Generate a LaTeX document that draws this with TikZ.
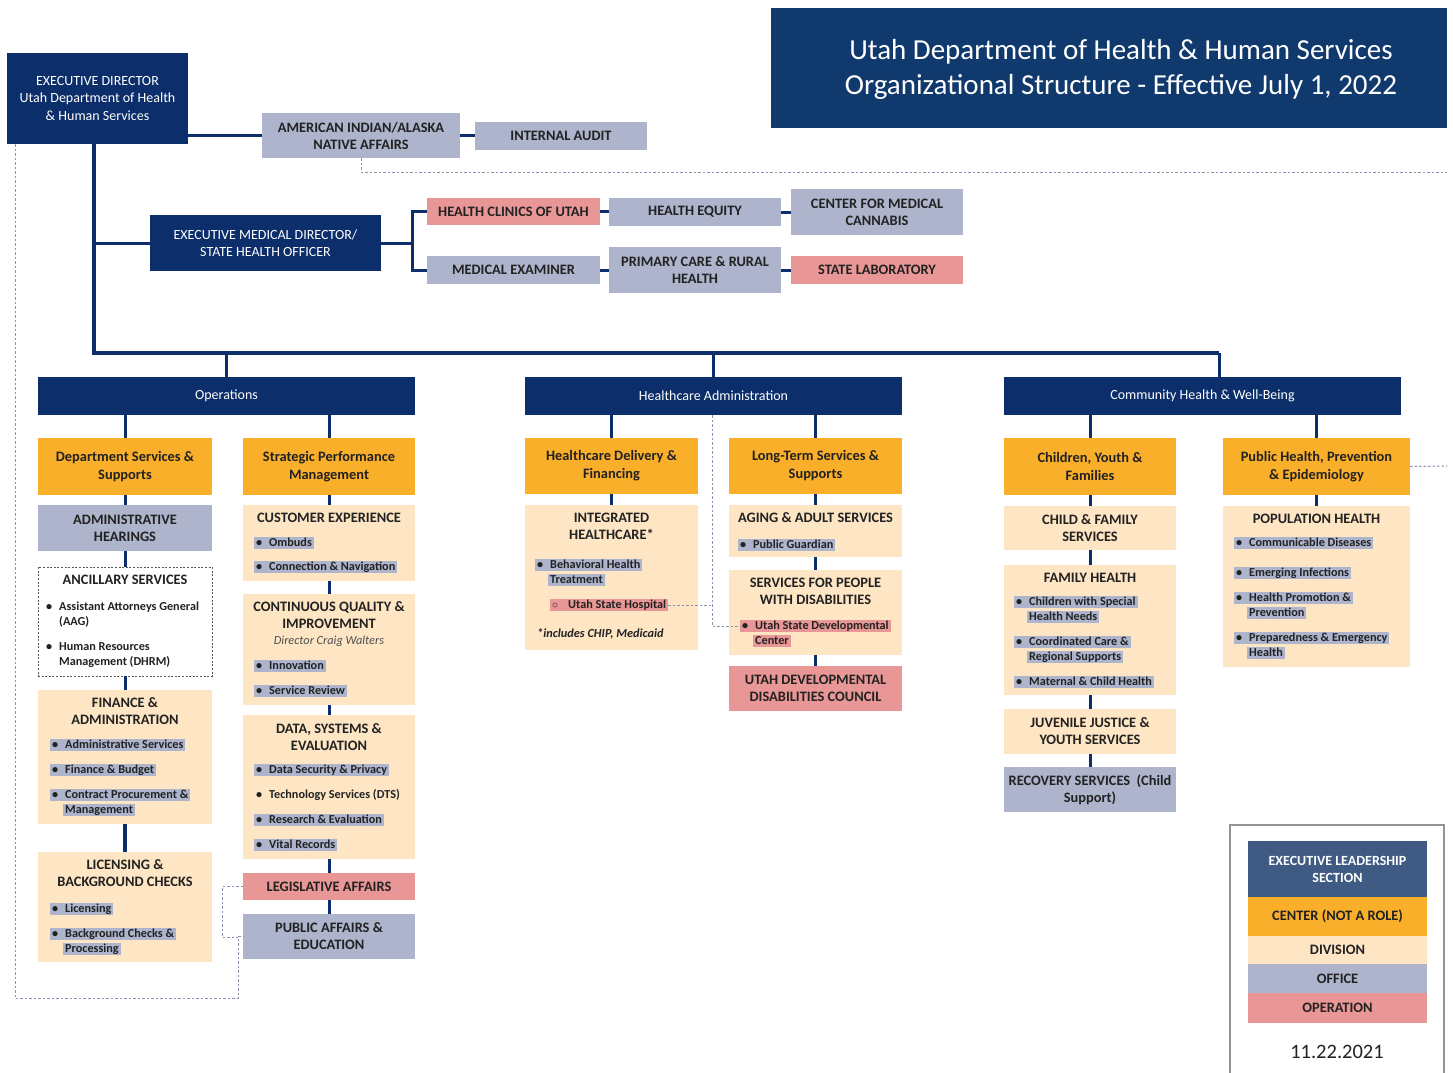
\documentclass[tikz,border=0pt]{standalone}
\usepackage{fontspec}
\setmainfont{Carlito}
\definecolor{navy}{HTML}{0C2E6A}
\definecolor{navyt}{HTML}{10396E}
\definecolor{legex}{HTML}{3F5B84}
\definecolor{orng}{HTML}{FAAF2A}
\definecolor{cream}{HTML}{FEE6C5}
\definecolor{lav}{HTML}{ADB4CB}
\definecolor{pinkc}{HTML}{E99696}
\definecolor{ink}{HTML}{222222}
\definecolor{dotc}{HTML}{8A93AE}
\newcommand\bxn[7]{\node[#6, minimum width={#4-#2}, minimum height={#5-#3}] (#1) at ({(#2+#4)/2},{(#3+#5)/2}) {#7};}
\newcounter{bc}
\newcommand\bi[5]{\stepcounter{bc}%
  \node[bul, fill=#3] (b\arabic{bc}a) at (#1,#2) {\makebox[13pt][l]{\textbullet}#4};%
  \if\relax\detokenize{#5}\relax\else
  \node[bul, fill=#3] (b\arabic{bc}b) at (#1+13,#2+15) {#5};\fi}
\begin{document}
\begin{tikzpicture}[x=1pt,y=-1pt,
  bx/.style={inner sep=0pt, outer sep=0pt, align=center, text=ink},
  exbox/.style={bx, fill=navy, text=white, font=\fontsize{14}{17.5}\selectfont},
  ctrbox/.style={bx, fill=orng, font=\bfseries\fontsize{14.4}{18}\selectfont},
  divbox/.style={bx, fill=cream, font=\bfseries\fontsize{14.4}{17}\selectfont},
  offbox/.style={bx, fill=lav, font=\bfseries\fontsize{14.4}{17}\selectfont},
  opbox/.style={bx, fill=pinkc, font=\bfseries\fontsize{14.4}{17}\selectfont},
  secbox/.style={bx, fill=navy, text=white, font=\fontsize{14}{16}\selectfont},
  ttl/.style={inner sep=0pt, align=center, text=ink, font=\bfseries\fontsize{14.4}{17}\selectfont},
  bul/.style={anchor=west, inner xsep=2pt, inner ysep=0pt, text height=9.5pt, text depth=3.2pt, text=ink, font=\bfseries\fontsize{12.2}{13}\selectfont},
  conn/.style={draw=navy, line width=3pt},
  bus/.style={draw=navy, line width=4pt},
  dots/.style={draw=dotc, line width=1pt, dash pattern=on 2.5pt off 2pt},
]
\useasboundingbox[fill=white] (0,0) rectangle (1453,1072);

% ---------- title ----------
\bxn{title}{771}{8}{1447}{128}{bx, fill=navyt}{}
\node[inner sep=0pt, align=center, text=white, font=\fontsize{29}{35}\selectfont] (titleT) at (1121,69) {Utah Department of Health \& Human Services\\Organizational Structure - Effective July 1, 2022};

% ---------- top ----------
\bxn{ed}{7}{53}{188}{144}{exbox}{EXECUTIVE DIRECTOR\\Utah Department of Health\\\& Human Services}
\bxn{aian}{262}{113}{460}{158}{offbox}{AMERICAN INDIAN/ALASKA\\NATIVE AFFAIRS}
\bxn{ia}{475}{122}{647}{150}{offbox}{INTERNAL AUDIT}
\bxn{emd}{150}{215}{381}{271}{exbox}{EXECUTIVE MEDICAL DIRECTOR/\\STATE HEALTH OFFICER}
\bxn{hcu}{427}{198}{600}{225}{opbox}{HEALTH CLINICS OF UTAH}
\bxn{he}{609}{198}{781}{226}{offbox}{HEALTH EQUITY}
\bxn{cmc}{791}{189}{963}{235}{offbox}{CENTER FOR MEDICAL\\CANNABIS}
\bxn{me}{427}{256}{600}{284}{offbox}{MEDICAL EXAMINER}
\bxn{pcrh}{609}{247}{781}{293}{offbox}{PRIMARY CARE \& RURAL\\HEALTH}
\bxn{sl}{791}{256}{963}{284}{opbox}{STATE LABORATORY}

\coordinate (trunk) at (94,144);
\coordinate (emdbr) at (94,243);
\coordinate (busL) at (94,353);
\coordinate (busR) at (1219,353);
\coordinate (emdj) at (412,243);
\draw[bus] (trunk) -- (busL) -- (busR);
\draw[conn] (emdbr) -- (emd.west);
\draw[conn] (aian.west -| ed.east) -- (aian.west);
\draw[conn] (aian.east) -- (aian.east -| ia.west);
\draw[conn] (emd.east) -- (emdj);
\draw[conn] (hcu.west) -| (emdj) |- (me.west);
\draw[conn] (hcu.east) -- (hcu.east -| he.west);
\draw[conn] (he.east) -- (he.east -| cmc.west);
\draw[conn] (me.east) -- (me.east -| pcrh.west);
\draw[conn] (pcrh.east) -- (pcrh.east -| sl.west);

% ---------- section headers ----------
\bxn{ops}{38}{377}{415}{415}{secbox}{Operations}
\bxn{hca}{525}{377}{902}{415}{secbox}{Healthcare Administration}
\bxn{chw}{1004}{377}{1401}{415}{secbox}{Community Health \& Well-Being}
\draw[conn] (ops.north) -- (ops.north |- busL);
\draw[conn] (hca.north) -- (hca.north |- busL);
\draw[conn] (chw.north -| busR) -- (busR);

% ---------- Operations col A ----------
\bxn{dss}{38}{438}{212}{495}{ctrbox}{Department Services \&\\Supports}
\bxn{ah}{38}{505}{212}{551}{offbox}{ADMINISTRATIVE\\HEARINGS}
\bxn{anc}{38}{567}{212}{676}{bx, draw=ink!75, line width=0.8pt, dash pattern=on 2pt off 1.6pt}{}
\node[ttl] (ancT) at (125,580) {ANCILLARY SERVICES};
\bi{44}{607}{none}{Assistant Attorneys General}{(AAG)}
\bi{44}{647}{none}{Human Resources}{Management (DHRM)}
\bxn{fa}{38}{690}{212}{824}{divbox}{}
\node[ttl] (faT) at (125,711.5) {FINANCE \&\\ADMINISTRATION};
\bi{50}{745}{lav}{Administrative Services}{}
\bi{50}{770}{lav}{Finance \& Budget}{}
\bi{50}{795}{lav}{Contract Procurement \&}{Management}
\bxn{lbc}{38}{852}{212}{962}{divbox}{}
\node[ttl] (lbcT) at (125,873.5) {LICENSING \&\\BACKGROUND CHECKS};
\bi{50}{909}{lav}{Licensing}{}
\bi{50}{934}{lav}{Background Checks \&}{Processing}
\draw[conn] (ops.south -| dss.north) -- (dss.north);
\draw[conn] (dss.south) -- (ah.north);
\draw[conn] (ah.south) -- (anc.north);
\draw[conn] (anc.south) -- (fa.north);
\draw[conn, line width=4pt] (fa.south) -- (lbc.north);

% ---------- Operations col B ----------
\bxn{spm}{243}{438}{415}{495}{ctrbox}{Strategic Performance\\Management}
\bxn{cx}{243}{505}{415}{581}{divbox}{}
\node[ttl] (cxT) at (329,518) {CUSTOMER EXPERIENCE};
\bi{254}{543}{lav}{Ombuds}{}
\bi{254}{567}{lav}{Connection \& Navigation}{}
\bxn{cqi}{243}{594}{415}{705}{divbox}{}
\node[ttl] (cqiT) at (329,615.5) {CONTINUOUS QUALITY \&\\IMPROVEMENT};
\node[ttl, font=\itshape\fontsize{12.3}{13}\selectfont, text=ink!80] (cqiD) at (329,641) {Director Craig Walters};
\bi{254}{666}{lav}{Innovation}{}
\bi{254}{691}{lav}{Service Review}{}
\bxn{dse}{243}{715}{415}{859}{divbox}{}
\node[ttl] (dseT) at (329,737) {DATA, SYSTEMS \&\\EVALUATION};
\bi{254}{770}{lav}{Data Security \& Privacy}{}
\bi{254}{795}{none}{Technology Services (DTS)}{}
\bi{254}{820}{lav}{Research \& Evaluation}{}
\bi{254}{845}{lav}{Vital Records}{}
\bxn{la}{243}{873}{415}{900}{opbox}{LEGISLATIVE AFFAIRS}
\bxn{pae}{243}{914}{415}{959}{offbox}{PUBLIC AFFAIRS \&\\EDUCATION}
\draw[conn] (ops.south -| spm.north) -- (spm.north);
\draw[conn] (spm.south) -- (cx.north);
\draw[conn] (cx.south) -- (cqi.north);
\draw[conn] (cqi.south) -- (dse.north);
\draw[conn] (dse.south) -- (la.north);
\draw[conn] (la.south) -- (pae.north);

% dotted reporting lines (left)
\coordinate (dl1) at (15,998);
\coordinate (dl2) at (238,998);
\coordinate (dl3) at (222,937);
\draw[dots] (ed.south -| dl1) -- (dl1) -- (dl2) |- (pae.west);
\draw[dots] (la.west) -| (dl3) -- (dl3 -| dl2);
\coordinate (dr1) at (1447,172);
\draw[dots] (aian.south) |- (dr1);

% ---------- Healthcare col C ----------
\bxn{hdf}{525}{438}{698}{494}{ctrbox}{Healthcare Delivery \&\\Financing}
\bxn{ih}{525}{505}{698}{650}{divbox}{}
\node[ttl] (ihT) at (611.5,526.5) {INTEGRATED\\HEALTHCARE*};
\bi{535}{565}{lav}{Behavioral Health}{Treatment}
\node[bul, fill=pinkc] (ush) at (550,605) {\makebox[16pt][l]{$\circ$}Utah State Hospital};
\node[bul, font=\bfseries\itshape\fontsize{12.3}{13}\selectfont] (ihN) at (535,634) {*includes CHIP, Medicaid};

% ---------- Healthcare col D ----------
\bxn{lts}{729}{438}{902}{494}{ctrbox}{Long-Term Services \&\\Supports}
\bxn{aas}{729}{505}{902}{557}{divbox}{}
\node[ttl] (aasT) at (815.5,518) {AGING \& ADULT SERVICES};
\bi{738}{545}{lav}{Public Guardian}{}
\bxn{spd}{729}{570}{902}{655}{divbox}{}
\node[ttl] (spdT) at (815.5,591.5) {SERVICES FOR PEOPLE\\WITH DISABILITIES};
\node[bul, fill=pinkc] (usdc) at (740,626) {\makebox[13pt][l]{\textbullet}Utah State Developmental};
\node[bul, fill=pinkc] (usdc2) at (753,641) {Center};
\bxn{uddc}{729}{666}{902}{711}{opbox}{UTAH DEVELOPMENTAL\\DISABILITIES COUNCIL}
\draw[conn] (hca.south -| hdf.north) -- (hdf.north);
\draw[conn] (hdf.south) -- (ih.north);
\draw[conn] (hca.south -| lts.north) -- (lts.north);
\draw[conn] (lts.south) -- (aas.north);
\draw[conn] (aas.south) -- (spd.north);
\draw[conn] (spd.south) -- (uddc.north);
\coordinate (hd) at (712,626);
\draw[dots] (hca.south -| hd) -- (hd) -- (usdc.west);
\draw[dots] (ush.east) -- (ush.east -| hd);

% ---------- Community col E ----------
\bxn{cyf}{1004}{438}{1176}{495}{ctrbox}{Children, Youth \&\\Families}
\bxn{cfs}{1004}{506}{1176}{550}{divbox}{CHILD \& FAMILY\\SERVICES}
\bxn{fh}{1004}{565}{1176}{695}{divbox}{}
\node[ttl] (fhT) at (1090,578) {FAMILY HEALTH};
\bi{1014}{602}{lav}{Children with Special}{Health Needs}
\bi{1014}{642}{lav}{Coordinated Care \&}{Regional Supports}
\bi{1014}{682}{lav}{Maternal \& Child Health}{}
\bxn{jjys}{1004}{709}{1176}{754}{divbox}{JUVENILE JUSTICE \&\\YOUTH SERVICES}
\bxn{rs}{1004}{767}{1176}{812}{offbox}{RECOVERY SERVICES~~(Child\\Support)}
\draw[conn] (chw.south -| cyf.north) -- (cyf.north);
\draw[conn] (cyf.south) -- (cfs.north);
\draw[conn] (cfs.south) -- (fh.north);
\draw[conn] (fh.south) -- (jjys.north);
\draw[conn] (jjys.south) -- (rs.north);

% ---------- Community col F ----------
\bxn{phpe}{1223}{438}{1410}{495}{ctrbox}{Public Health, Prevention\\\& Epidemiology}
\bxn{ph}{1223}{506}{1410}{667}{divbox}{}
\node[ttl] (phT) at (1316.5,519) {POPULATION HEALTH};
\bi{1234}{543}{lav}{Communicable Diseases}{}
\bi{1234}{573}{lav}{Emerging Infections}{}
\bi{1234}{598}{lav}{Health Promotion \&}{Prevention}
\bi{1234}{638}{lav}{Preparedness \& Emergency}{Health}
\draw[conn] (chw.south -| phpe.north) -- (phpe.north);
\draw[conn] (phpe.south) -- (ph.north);
\coordinate (dr2) at (1447,466);
\draw[dots] (phpe.east) -- (dr2);

% ---------- legend ----------
\bxn{lgf}{1230}{825}{1444}{1085}{bx, draw=gray!85, line width=1.2pt}{}
\bxn{lex}{1248}{841}{1427}{897}{bx, fill=legex, text=white, font=\bfseries\fontsize{14}{17}\selectfont}{EXECUTIVE LEADERSHIP\\SECTION}
\bxn{lce}{1248}{897}{1427}{936}{ctrbox}{CENTER (NOT A ROLE)}
\bxn{ldv}{1248}{936}{1427}{964}{divbox}{DIVISION}
\bxn{lof}{1248}{964}{1427}{993}{offbox}{OFFICE}
\bxn{lop}{1248}{993}{1427}{1023}{opbox}{OPERATION}
\node[ttl, font=\fontsize{20.5}{22}\selectfont] (date) at (1337,1052) {11.22.2021};
\end{tikzpicture}
\end{document}
